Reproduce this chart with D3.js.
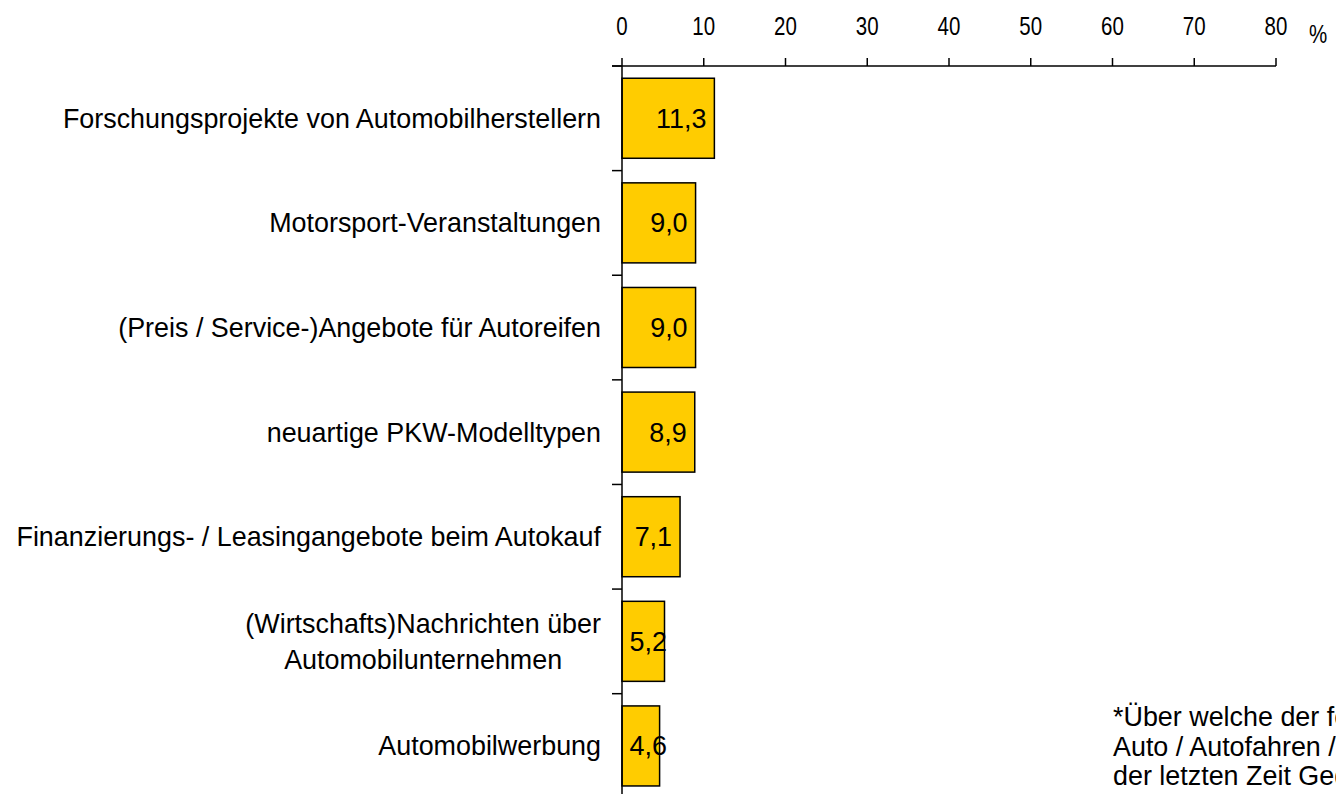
<!DOCTYPE html>
<html>
<head>
<meta charset="utf-8">
<script src="https://cdn.jsdelivr.net/npm/d3@7"></script>
<style>
  body { margin: 0; background: #fff; overflow: hidden; }
  text { font-family: "Liberation Sans", Arial, sans-serif; fill: #000; }
</style>
</head>
<body>
<div id="viz"></div>
<script>
// Daten
const categories = [
  ['Forschungsprojekte von Automobilherstellern'],
  ['Motorsport-Veranstaltungen'],
  ['(Preis / Service-)Angebote für Autoreifen'],
  ['neuartige PKW-Modelltypen'],
  ['Finanzierungs- / Leasingangebote beim Autokauf'],
  ['(Wirtschafts)Nachrichten über', 'Automobilunternehmen'],
  ['Automobilwerbung']
];
const values = [11.3, 9.0, 9.0, 8.9, 7.1, 5.2, 4.6];
const ticks = [0, 10, 20, 30, 40, 50, 60, 70, 80];
const footnote = [
  '*Über welche der folgenden Themen rund um das',
  'Auto / Autofahren / Autobesitz haben Sie sich in',
  'der letzten Zeit Gedanken gemacht?'
];

const width = 1336, height = 794;
const fs = 26.9;
const svg = d3.select('#viz').append('svg')
  .attr('width', width).attr('height', height);

const x = d3.scaleLinear().domain([0, 80]).range([622, 1276]);
const y = d3.scaleBand().domain(d3.range(values.length))
  .range([66, 66 + 104.6 * values.length]).paddingInner(0.235).paddingOuter(0.117);

// obere Achse
const axTop = svg.append('g');
axTop.append('line')
  .attr('x1', 612).attr('x2', x(80)).attr('y1', 66).attr('y2', 66)
  .attr('stroke', '#000').attr('stroke-width', 1.5);
axTop.selectAll('line.tick').data(ticks).join('line')
  .attr('class', 'tick')
  .attr('x1', d => x(d)).attr('x2', d => x(d))
  .attr('y1', 58).attr('y2', 66)
  .attr('stroke', '#000').attr('stroke-width', 1.5);
// Achsenbeschriftung etwas schmaler wie im Original
axTop.selectAll('text').data(ticks).join('text')
  .attr('transform', d => `translate(${x(d)},35) scale(0.82,1)`)
  .attr('text-anchor', 'middle').attr('font-size', 25)
  .text(d => d);
svg.append('text').attr('transform', 'translate(1309,43) scale(0.82,1)')
  .attr('font-size', 25).text('%');

// Balken
svg.selectAll('rect.bar').data(values).join('rect')
  .attr('class', 'bar')
  .attr('x', x(0)).attr('y', (d, i) => y(i))
  .attr('width', d => x(d) - x(0)).attr('height', y.bandwidth())
  .attr('fill', '#FFCC00').attr('stroke', '#000').attr('stroke-width', 1.5);

// linke Achse
svg.append('line')
  .attr('x1', x(0)).attr('x2', x(0)).attr('y1', 66).attr('y2', height + 20)
  .attr('stroke', '#000').attr('stroke-width', 1.5);
svg.selectAll('line.ytick').data(d3.range(values.length + 1)).join('line')
  .attr('class', 'ytick')
  .attr('x1', 612).attr('x2', x(0))
  .attr('y1', i => 66 + i * y.step()).attr('y2', i => 66 + i * y.step())
  .attr('stroke', '#000').attr('stroke-width', 1.5);

// Werte
const fmt = v => v.toFixed(1).replace('.', ',');
svg.selectAll('text.val').data(values).join('text')
  .attr('class', 'val')
  .attr('x', d => Math.max(x(d) - 8, x(0) + 45))
  .attr('y', (d, i) => y(i) + y.bandwidth() / 2)
  .attr('dy', '0.35em').attr('text-anchor', 'end').attr('font-size', fs)
  .text(fmt);

// Kategorien (mehrzeilig: Zeilen zentriert, Block rechtsbündig an der Achse)
categories.forEach((lines, i) => {
  const g = svg.append('text').attr('font-size', fs).attr('text-anchor', 'middle');
  const cy = y(i) + y.bandwidth() / 2;
  const lh = 36;
  lines.forEach((l, j) => {
    g.append('tspan').attr('x', 0)
      .attr('y', cy + (j - (lines.length - 1) / 2) * lh).attr('dy', '0.35em').text(l);
  });
  const w = d3.max(g.selectAll('tspan').nodes(), n => n.getComputedTextLength());
  g.selectAll('tspan').attr('x', 601 - w / 2);
});

// Fußnote (läuft wie im Original rechts aus dem Bild)
svg.append('text').attr('font-size', fs)
  .selectAll('tspan').data(footnote).join('tspan')
  .attr('x', 1113).attr('y', (d, i) => 726 + i * 29.5)
  .text(d => d);
</script>
</body>
</html>
